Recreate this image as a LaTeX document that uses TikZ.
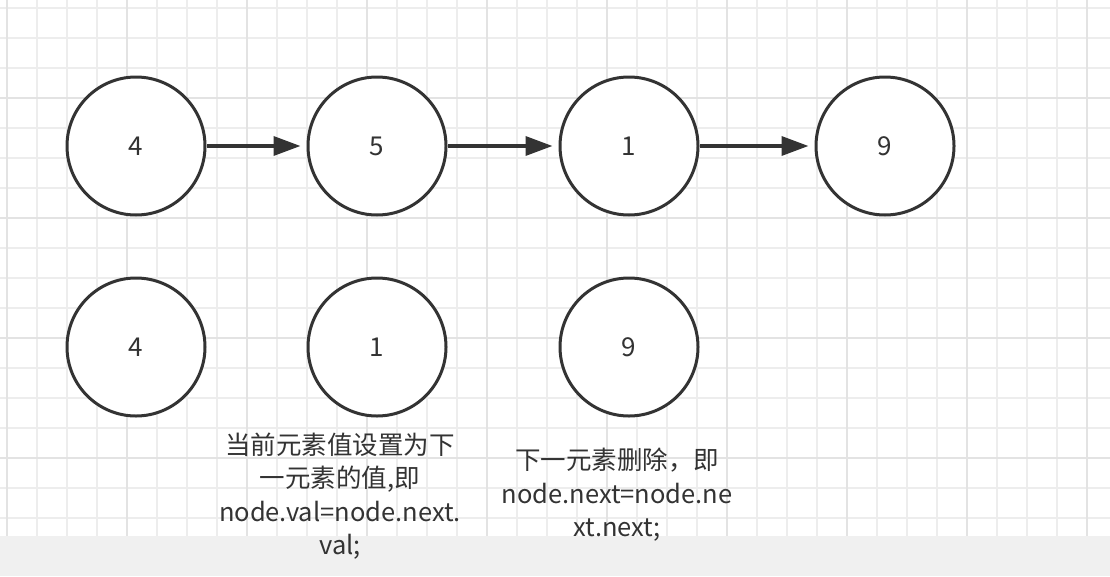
\documentclass[tikz,border=0pt]{standalone}
\usepackage{fontspec}
\setmainfont{Noto Sans CJK SC}
\usetikzlibrary{positioning, arrows.meta}

\definecolor{ink}{HTML}{333333}
\definecolor{gridlight}{HTML}{EDEDED}
\definecolor{griddark}{HTML}{E3E3E3}
\definecolor{band}{HTML}{F0F0F0}

\begin{document}
\begin{tikzpicture}[
			x = 1pt, y = -1pt,
			listnode/.style = {circle, draw = ink, line width = 3pt, fill = white, minimum size = 138pt, inner sep = 0pt, text = ink, font = \fontsize{26}{30}\selectfont},
			link/.style = {draw = ink, line width = 3.5pt, -{Triangle[length = 27pt, width = 19pt]}, shorten > = 6pt},
			note/.style = {align = center, text = ink, font = \fontsize{25.5}{33.5}\selectfont}
		]
		\useasboundingbox (0,0) rectangle (1110,576);
		\fill[white] (0,0) rectangle (1110,576);
		% grid
		\foreach \gx in {7,37,...,1110}
			\draw[gridlight, line width = 1.5pt] (\gx,0) -- (\gx,576);
		\foreach \gy in {8,38,...,576}
			\draw[gridlight, line width = 1.5pt] (0,\gy) -- (1110,\gy);
		\foreach \gx in {7,127,...,1110}
			\draw[griddark, line width = 1.5pt] (\gx,0) -- (\gx,576);
		\foreach \gy in {98,218,...,576}
			\draw[griddark, line width = 1.5pt] (0,\gy) -- (1110,\gy);
		\fill[band] (0,536) rectangle (1110,576);

		% before
		\node[listnode] (a4) at (136,146) {4};
		\node[listnode] (a5) at (377,146) {5};
		\node[listnode] (a1) at (629,146) {1};
		\node[listnode] (a9) at (885,146) {9};
		\draw[link] (a4) -- (a5);
		\draw[link] (a5) -- (a1);
		\draw[link] (a1) -- (a9);

		% after
		\node[listnode] (b4) at (136,347) {4};
		\node[listnode] (b1) at (377,347) {1};
		\node[listnode] (b9) at (629,347) {9};

		\node[note] (copyval) at (340,496) {当前元素值设置为下\\一元素的值,即\\node.val=node.next.\\val;};
		\node[note] (dropnext) at (617,495) {下一元素删除，即\\node.next=node.ne\\xt.next;};
	\end{tikzpicture}
\end{document}
